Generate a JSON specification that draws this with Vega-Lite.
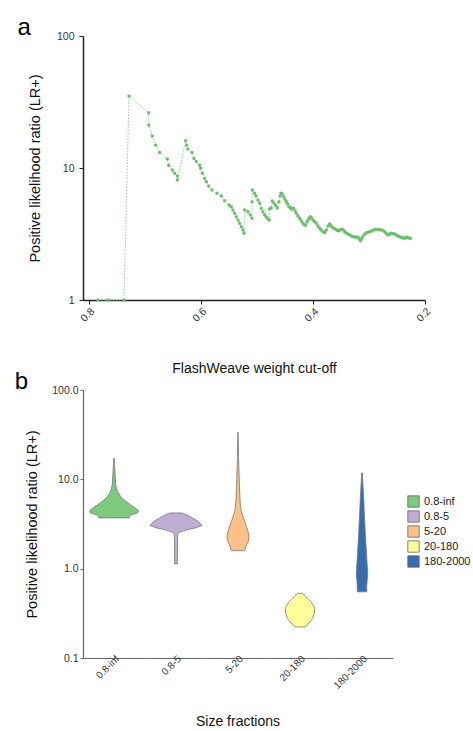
{
  "$schema": "https://vega.github.io/schema/vega-lite/v6.json",
  "padding": {"left": 14, "top": 16, "right": 2, "bottom": 2},
  "columns": 1,
  "align": "none",
  "spacing": -6,
  "config": {
    "font": "Liberation Sans",
    "view": {"stroke": null},
    "axis": {"labelFont": "Liberation Sans", "titleFont": "Liberation Sans", "titleFontWeight": "normal", "labelColor": "#333", "titleColor": "#111", "grid": false},
    "header": {"labelFont": "Liberation Sans", "titleFont": "Liberation Sans"},
    "legend": {"labelFont": "Liberation Sans"},
    "title": {"font": "Liberation Sans"}
  },
  "datasets": {
    "lr": [
      {"cutoff": 0.7839, "lr": 1}, {"cutoff": 0.7661, "lr": 1}, {"cutoff": 0.7375, "lr": 1},
      {"cutoff": 0.7286, "lr": 35.1}, {"cutoff": 0.6934, "lr": 26.2}, {"cutoff": 0.6932, "lr": 21.2},
      {"cutoff": 0.687, "lr": 17.5}, {"cutoff": 0.6809, "lr": 14.9}, {"cutoff": 0.6737, "lr": 13.1},
      {"cutoff": 0.6602, "lr": 11.7}, {"cutoff": 0.6577, "lr": 10.5}, {"cutoff": 0.6512, "lr": 9.66},
      {"cutoff": 0.647, "lr": 9.12}, {"cutoff": 0.6423, "lr": 8.7}, {"cutoff": 0.6421, "lr": 8.11},
      {"cutoff": 0.6273, "lr": 16.1}, {"cutoff": 0.6255, "lr": 14.9}, {"cutoff": 0.6232, "lr": 13.9},
      {"cutoff": 0.6161, "lr": 13.1}, {"cutoff": 0.6125, "lr": 11.8}, {"cutoff": 0.6084, "lr": 11.2},
      {"cutoff": 0.6023, "lr": 10.5}, {"cutoff": 0.6005, "lr": 9.95}, {"cutoff": 0.5977, "lr": 9.12},
      {"cutoff": 0.5934, "lr": 8.36}, {"cutoff": 0.5905, "lr": 7.87}, {"cutoff": 0.5863, "lr": 7.31},
      {"cutoff": 0.5804, "lr": 6.81}, {"cutoff": 0.5714, "lr": 6.43}, {"cutoff": 0.5638, "lr": 6.14},
      {"cutoff": 0.5577, "lr": 5.65}, {"cutoff": 0.55, "lr": 5.24}, {"cutoff": 0.5459, "lr": 5.09},
      {"cutoff": 0.5429, "lr": 4.81}, {"cutoff": 0.5398, "lr": 4.54}, {"cutoff": 0.537, "lr": 4.28},
      {"cutoff": 0.5339, "lr": 4.04}, {"cutoff": 0.5309, "lr": 3.81}, {"cutoff": 0.528, "lr": 3.59},
      {"cutoff": 0.525, "lr": 3.39}, {"cutoff": 0.5232, "lr": 3.2}, {"cutoff": 0.522, "lr": 4.81},
      {"cutoff": 0.5161, "lr": 4.67}, {"cutoff": 0.512, "lr": 4.4}, {"cutoff": 0.5089, "lr": 4.16},
      {"cutoff": 0.5088, "lr": 5.55}, {"cutoff": 0.5084, "lr": 6.81}, {"cutoff": 0.5041, "lr": 6.43},
      {"cutoff": 0.5018, "lr": 6.14}, {"cutoff": 0.4982, "lr": 5.72}, {"cutoff": 0.4952, "lr": 5.4},
      {"cutoff": 0.4923, "lr": 4.95}, {"cutoff": 0.4893, "lr": 4.67}, {"cutoff": 0.4863, "lr": 4.4},
      {"cutoff": 0.4834, "lr": 4.25}, {"cutoff": 0.4804, "lr": 4.11}, {"cutoff": 0.4781, "lr": 4.04},
      {"cutoff": 0.4777, "lr": 4.89}, {"cutoff": 0.4745, "lr": 4.98}, {"cutoff": 0.4727, "lr": 5.62},
      {"cutoff": 0.4696, "lr": 5.4}, {"cutoff": 0.4666, "lr": 5.2}, {"cutoff": 0.4638, "lr": 4.98},
      {"cutoff": 0.4607, "lr": 5.55}, {"cutoff": 0.4589, "lr": 6.14}, {"cutoff": 0.4571, "lr": 6.43},
      {"cutoff": 0.4548, "lr": 6.35}, {"cutoff": 0.4523, "lr": 6.06}, {"cutoff": 0.45, "lr": 5.79},
      {"cutoff": 0.4477, "lr": 5.55}, {"cutoff": 0.4452, "lr": 5.34}, {"cutoff": 0.4429, "lr": 5.09},
      {"cutoff": 0.4405, "lr": 5.02}, {"cutoff": 0.4387, "lr": 4.87}, {"cutoff": 0.4362, "lr": 4.93},
      {"cutoff": 0.4345, "lr": 4.95}, {"cutoff": 0.4321, "lr": 4.72}, {"cutoff": 0.4298, "lr": 4.54},
      {"cutoff": 0.4268, "lr": 4.33}, {"cutoff": 0.4238, "lr": 4.16}, {"cutoff": 0.4209, "lr": 3.97},
      {"cutoff": 0.4179, "lr": 3.81}, {"cutoff": 0.4155, "lr": 3.7}, {"cutoff": 0.4131, "lr": 3.7},
      {"cutoff": 0.4107, "lr": 3.9}, {"cutoff": 0.4089, "lr": 4.04}, {"cutoff": 0.4066, "lr": 4.18},
      {"cutoff": 0.4048, "lr": 4.28}, {"cutoff": 0.4023, "lr": 4.18}, {"cutoff": 0.4, "lr": 4.04},
      {"cutoff": 0.397, "lr": 3.92}, {"cutoff": 0.394, "lr": 3.81}, {"cutoff": 0.3911, "lr": 3.64},
      {"cutoff": 0.388, "lr": 3.49}, {"cutoff": 0.3852, "lr": 3.39}, {"cutoff": 0.3821, "lr": 3.29},
      {"cutoff": 0.3791, "lr": 3.25}, {"cutoff": 0.3762, "lr": 3.39}, {"cutoff": 0.3732, "lr": 3.64},
      {"cutoff": 0.3702, "lr": 3.76}, {"cutoff": 0.3679, "lr": 3.67}, {"cutoff": 0.3655, "lr": 3.55},
      {"cutoff": 0.3625, "lr": 3.48}, {"cutoff": 0.3595, "lr": 3.43}, {"cutoff": 0.3566, "lr": 3.36},
      {"cutoff": 0.3536, "lr": 3.35}, {"cutoff": 0.3506, "lr": 3.42}, {"cutoff": 0.3477, "lr": 3.43},
      {"cutoff": 0.3446, "lr": 3.36}, {"cutoff": 0.3434, "lr": 3.29}, {"cutoff": 0.3405, "lr": 3.22},
      {"cutoff": 0.3375, "lr": 3.16}, {"cutoff": 0.3345, "lr": 3.11}, {"cutoff": 0.3316, "lr": 3.05},
      {"cutoff": 0.3286, "lr": 3.03}, {"cutoff": 0.3255, "lr": 2.99}, {"cutoff": 0.3227, "lr": 3.0},
      {"cutoff": 0.3196, "lr": 2.99}, {"cutoff": 0.3173, "lr": 2.9}, {"cutoff": 0.3155, "lr": 2.81},
      {"cutoff": 0.3138, "lr": 2.87}, {"cutoff": 0.312, "lr": 2.99}, {"cutoff": 0.3089, "lr": 3.11},
      {"cutoff": 0.3059, "lr": 3.2}, {"cutoff": 0.303, "lr": 3.25}, {"cutoff": 0.2988, "lr": 3.29},
      {"cutoff": 0.2952, "lr": 3.33}, {"cutoff": 0.2916, "lr": 3.39}, {"cutoff": 0.288, "lr": 3.42},
      {"cutoff": 0.2839, "lr": 3.43}, {"cutoff": 0.2809, "lr": 3.4}, {"cutoff": 0.278, "lr": 3.39},
      {"cutoff": 0.275, "lr": 3.36}, {"cutoff": 0.272, "lr": 3.29}, {"cutoff": 0.2691, "lr": 3.19},
      {"cutoff": 0.2661, "lr": 3.11}, {"cutoff": 0.263, "lr": 3.16}, {"cutoff": 0.2602, "lr": 3.2},
      {"cutoff": 0.2571, "lr": 3.19}, {"cutoff": 0.2541, "lr": 3.16}, {"cutoff": 0.2512, "lr": 3.11},
      {"cutoff": 0.2482, "lr": 3.05}, {"cutoff": 0.2452, "lr": 3.01}, {"cutoff": 0.2423, "lr": 2.99},
      {"cutoff": 0.2393, "lr": 2.95}, {"cutoff": 0.2363, "lr": 2.94}, {"cutoff": 0.2339, "lr": 2.98},
      {"cutoff": 0.2321, "lr": 2.99}, {"cutoff": 0.2291, "lr": 2.95}, {"cutoff": 0.2262, "lr": 2.94}
    ],
    "violin": [
      {"fraction": "0.8-inf", "lr": 17.3, "density": 0.5}, {"fraction": "0.8-inf", "lr": 15, "density": 1},
      {"fraction": "0.8-inf", "lr": 12.5, "density": 1.8}, {"fraction": "0.8-inf", "lr": 10.5, "density": 2.6},
      {"fraction": "0.8-inf", "lr": 8.7, "density": 3.4}, {"fraction": "0.8-inf", "lr": 7.3, "density": 7},
      {"fraction": "0.8-inf", "lr": 6.2, "density": 15}, {"fraction": "0.8-inf", "lr": 5.7, "density": 23},
      {"fraction": "0.8-inf", "lr": 5.2, "density": 33}, {"fraction": "0.8-inf", "lr": 4.75, "density": 43},
      {"fraction": "0.8-inf", "lr": 4.45, "density": 49}, {"fraction": "0.8-inf", "lr": 4.2, "density": 47},
      {"fraction": "0.8-inf", "lr": 3.95, "density": 32}, {"fraction": "0.8-inf", "lr": 3.7, "density": 30},
      {"fraction": "0.8-5", "lr": 4.2, "density": 12}, {"fraction": "0.8-5", "lr": 4.0, "density": 22},
      {"fraction": "0.8-5", "lr": 3.7, "density": 33}, {"fraction": "0.8-5", "lr": 3.4, "density": 44},
      {"fraction": "0.8-5", "lr": 3.05, "density": 52}, {"fraction": "0.8-5", "lr": 2.85, "density": 38},
      {"fraction": "0.8-5", "lr": 2.72, "density": 22}, {"fraction": "0.8-5", "lr": 2.6, "density": 10},
      {"fraction": "0.8-5", "lr": 2.5, "density": 4}, {"fraction": "0.8-5", "lr": 2.2, "density": 3.2},
      {"fraction": "0.8-5", "lr": 1.8, "density": 3}, {"fraction": "0.8-5", "lr": 1.4, "density": 2.8},
      {"fraction": "0.8-5", "lr": 1.13, "density": 2.5},
      {"fraction": "5-20", "lr": 33.7, "density": 0.5}, {"fraction": "5-20", "lr": 25, "density": 0.8},
      {"fraction": "5-20", "lr": 18, "density": 1.1}, {"fraction": "5-20", "lr": 14, "density": 1.6},
      {"fraction": "5-20", "lr": 10.8, "density": 2.3}, {"fraction": "5-20", "lr": 8, "density": 3},
      {"fraction": "5-20", "lr": 6, "density": 4}, {"fraction": "5-20", "lr": 5, "density": 5},
      {"fraction": "5-20", "lr": 4.3, "density": 7}, {"fraction": "5-20", "lr": 3.84, "density": 10},
      {"fraction": "5-20", "lr": 3.4, "density": 13}, {"fraction": "5-20", "lr": 2.96, "density": 17},
      {"fraction": "5-20", "lr": 2.6, "density": 20}, {"fraction": "5-20", "lr": 2.29, "density": 22},
      {"fraction": "5-20", "lr": 2.05, "density": 21}, {"fraction": "5-20", "lr": 1.85, "density": 17},
      {"fraction": "5-20", "lr": 1.7, "density": 15}, {"fraction": "5-20", "lr": 1.59, "density": 13},
      {"fraction": "20-180", "lr": 0.53, "density": 5}, {"fraction": "20-180", "lr": 0.5, "density": 10},
      {"fraction": "20-180", "lr": 0.485, "density": 12}, {"fraction": "20-180", "lr": 0.455, "density": 17},
      {"fraction": "20-180", "lr": 0.426, "density": 22}, {"fraction": "20-180", "lr": 0.38, "density": 28},
      {"fraction": "20-180", "lr": 0.343, "density": 30}, {"fraction": "20-180", "lr": 0.31, "density": 28},
      {"fraction": "20-180", "lr": 0.277, "density": 25}, {"fraction": "20-180", "lr": 0.255, "density": 20},
      {"fraction": "20-180", "lr": 0.24, "density": 16}, {"fraction": "20-180", "lr": 0.223, "density": 11},
      {"fraction": "180-2000", "lr": 11.8, "density": 0.8}, {"fraction": "180-2000", "lr": 9, "density": 1.7},
      {"fraction": "180-2000", "lr": 6, "density": 3.5}, {"fraction": "180-2000", "lr": 4, "density": 4.8},
      {"fraction": "180-2000", "lr": 3, "density": 6}, {"fraction": "180-2000", "lr": 2, "density": 7.5},
      {"fraction": "180-2000", "lr": 1.5, "density": 9}, {"fraction": "180-2000", "lr": 1.2, "density": 10},
      {"fraction": "180-2000", "lr": 1.0, "density": 11}, {"fraction": "180-2000", "lr": 0.88, "density": 11.5},
      {"fraction": "180-2000", "lr": 0.75, "density": 10.5}, {"fraction": "180-2000", "lr": 0.65, "density": 9.5},
      {"fraction": "180-2000", "lr": 0.55, "density": 9.5}
    ]
  },
  "concat": [
    {
      "title": {"text": "a", "anchor": "start", "frame": "bounds", "fontSize": 24, "fontWeight": "normal", "color": "#000", "dx": -10, "offset": -9},
      "width": 342,
      "height": 264,
      "data": {"name": "lr"},
      "encoding": {
        "x": {"field": "cutoff", "type": "quantitative",
          "scale": {"domain": [0.2, 0.8107], "reverse": true, "nice": false, "zero": false},
          "axis": {"values": [0.8, 0.6, 0.4, 0.2], "format": ".1f", "labelAngle": -45, "labelFontSize": 10.5,
            "domainColor": "#222", "domainWidth": 1.5, "tickColor": "#222", "tickSize": 4,
            "title": "FlashWeave weight cut-off", "titleFontSize": 14, "titlePadding": 38}},
        "y": {"field": "lr", "type": "quantitative",
          "scale": {"type": "log", "domain": [1, 100], "nice": false},
          "axis": {"values": [1, 10, 100], "format": "d", "labelFontSize": 10.5, "labelPadding": 5,
            "domainColor": "#222", "domainWidth": 1.5, "tickColor": "#222", "tickSize": 4,
            "title": "Positive likelihood ratio (LR+)", "titleFontSize": 14.5, "titlePadding": 14}}
      },
      "layer": [
        {"mark": {"type": "line", "color": "#8fd18f", "strokeWidth": 1, "strokeDash": [1.5, 1.5]}},
        {"mark": {"type": "point", "filled": true, "color": "#6cc06c", "size": 12, "opacity": 1}}
      ]
    },
    {
      "title": {"text": "b", "anchor": "start", "frame": "bounds", "fontSize": 24, "fontWeight": "normal", "color": "#000", "dx": -10, "offset": -9},
      "data": {"name": "violin"},
      "spacing": 0,
      "bounds": "flush",
      "facet": {
        "column": {"field": "fraction", "type": "nominal",
          "sort": ["0.8-inf", "0.8-5", "5-20", "20-180", "180-2000"],
          "header": {"labelOrient": "bottom", "labelAngle": -45, "labelAlign": "right", "labelBaseline": "top",
            "labelFontSize": 10, "labelColor": "#333", "labelPadding": -4,
            "title": "Size fractions", "titleOrient": "bottom", "titleFontSize": 14, "titleFontWeight": "normal", "titleColor": "#111", "titlePadding": 14}}
      },
      "spec": {
        "width": 62,
        "height": 268,
        "mark": {"type": "area", "orient": "horizontal", "stroke": "#777", "strokeWidth": 0.8},
        "encoding": {
          "y": {"field": "lr", "type": "quantitative",
            "scale": {"type": "log", "domain": [0.1, 100], "nice": false},
            "axis": {"values": [0.1, 1, 10, 100], "format": ".1f", "labelFontSize": 10.5,
              "domainColor": "#666", "domainWidth": 1.2, "tickColor": "#666", "tickSize": 3,
              "title": "Positive likelihood ratio (LR+)", "titleFontSize": 14.5, "titlePadding": 12}},
          "x": {"field": "density", "type": "quantitative", "stack": "center", "impute": null,
            "scale": {"domain": [-5, 57], "nice": false, "zero": false},
            "axis": {"labels": false, "ticks": false, "title": null, "grid": false, "domainColor": "#666", "domainWidth": 1.2}},
          "color": {"field": "fraction", "type": "nominal",
            "scale": {"domain": ["0.8-inf", "0.8-5", "5-20", "20-180", "180-2000"], "range": ["#7fc97f", "#beaed4", "#fdc086", "#ffff99", "#386cb0"]},
            "legend": {"title": null, "orient": "none", "legendX": 324, "legendY": 459, "symbolType": "square", "symbolSize": 130,
              "symbolStrokeColor": "#666", "symbolStrokeWidth": 0.8, "labelFontSize": 11, "labelColor": "#222", "rowPadding": 0}}
        }
      }
    }
  ]
}
